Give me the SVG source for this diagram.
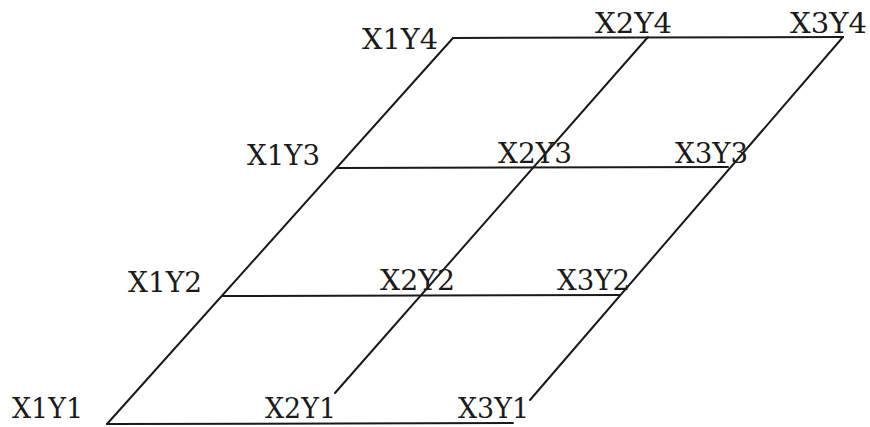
<svg xmlns="http://www.w3.org/2000/svg" width="870" height="427" viewBox="0 0 870 427">
<style>
.l{stroke:#1a1a1a;stroke-width:2;fill:none;stroke-linecap:round}
.t{font-family:"DejaVu Serif","Liberation Serif",serif;font-size:28px;fill:#1a1a1a}
</style>
<rect width="870" height="427" fill="#fff"/>
<g id="connectors">
<line class="l" x1="107" y1="424" x2="513" y2="423"/>
<line class="l" x1="222" y1="296" x2="620" y2="295"/>
<line class="l" x1="337" y1="168" x2="728" y2="167"/>
<line class="l" x1="453" y1="38" x2="843" y2="37"/>
<line class="l" x1="107" y1="424" x2="453" y2="38"/>
<line class="l" x1="335" y1="393" x2="648" y2="37"/>
<line class="l" x1="530" y1="400" x2="843" y2="37"/>
</g>
<g id="X1Y1"><text class="t" x="12" y="418" textLength="71" lengthAdjust="spacingAndGlyphs">X1Y1</text></g>
<g id="X2Y1"><text class="t" x="265" y="418" textLength="71" lengthAdjust="spacingAndGlyphs">X2Y1</text></g>
<g id="X3Y1"><text class="t" x="458" y="418" textLength="71" lengthAdjust="spacingAndGlyphs">X3Y1</text></g>
<g id="X1Y2"><text class="t" x="128" y="292" textLength="74" lengthAdjust="spacingAndGlyphs">X1Y2</text></g>
<g id="X2Y2"><text class="t" x="380" y="290" textLength="75" lengthAdjust="spacingAndGlyphs">X2Y2</text></g>
<g id="X3Y2"><text class="t" x="557" y="290" textLength="73" lengthAdjust="spacingAndGlyphs">X3Y2</text></g>
<g id="X1Y3"><text class="t" x="247" y="165" textLength="73" lengthAdjust="spacingAndGlyphs">X1Y3</text></g>
<g id="X2Y3"><text class="t" x="498" y="163" textLength="74" lengthAdjust="spacingAndGlyphs">X2Y3</text></g>
<g id="X3Y3"><text class="t" x="675" y="163" textLength="73" lengthAdjust="spacingAndGlyphs">X3Y3</text></g>
<g id="X1Y4"><text class="t" x="362" y="49" textLength="76" lengthAdjust="spacingAndGlyphs">X1Y4</text></g>
<g id="X2Y4"><text class="t" x="595" y="33" textLength="77" lengthAdjust="spacingAndGlyphs">X2Y4</text></g>
<g id="X3Y4"><text class="t" x="790" y="33" textLength="77" lengthAdjust="spacingAndGlyphs">X3Y4</text></g>
</svg>
